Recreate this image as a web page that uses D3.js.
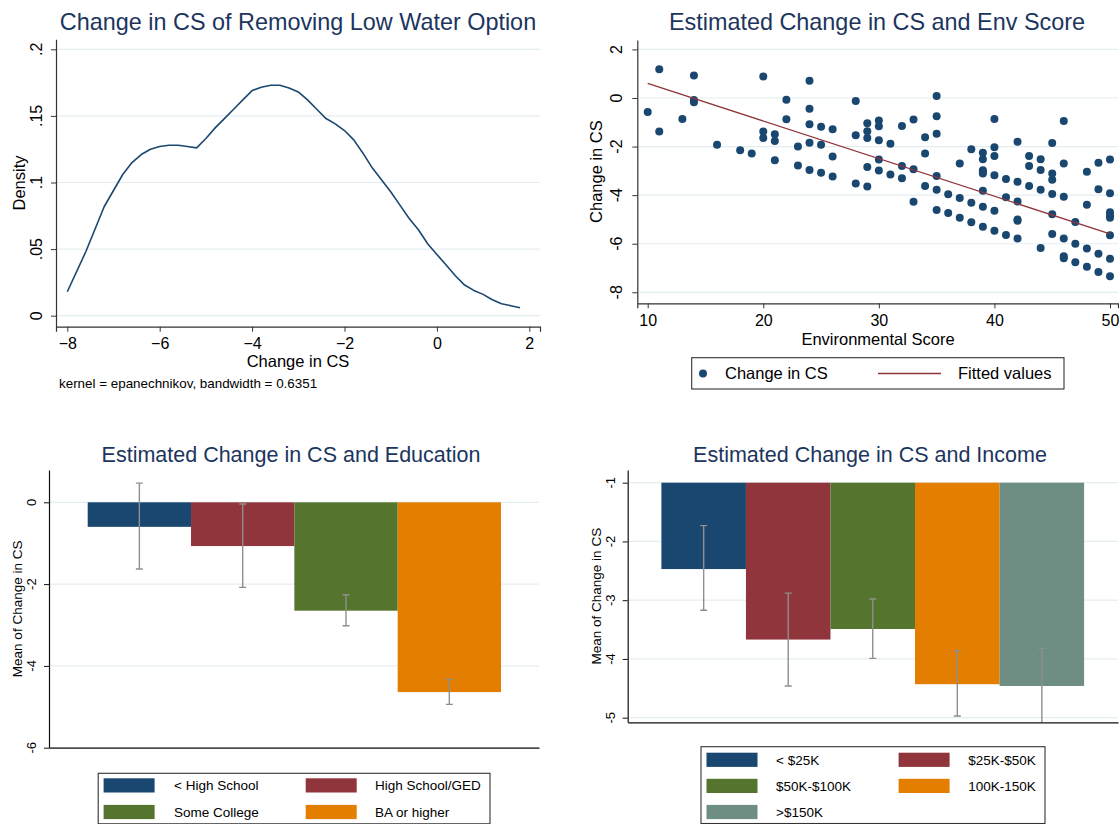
<!DOCTYPE html>
<html><head><meta charset="utf-8">
<script src="https://cdn.jsdelivr.net/npm/d3@7"></script>
<style>
body{margin:0;background:#fff}
svg{display:block}
text{font-family:"Liberation Sans",Arial,Helvetica,sans-serif}
</style>
</head><body>
<svg id="chart" width="1119" height="824"></svg>
<script>
// ---------- DATA ----------
// Panel 1: kernel density of Change in CS
const densityX = [-8,-7.6,-7.2,-6.8,-6.6,-6.4,-6.2,-6.0,-5.8,-5.6,-5.4,-5.2,-5.0,-4.8,-4.6,-4.4,-4.2,-4.0,-3.8,-3.6,-3.4,-3.2,-3.0,-2.8,-2.6,-2.4,-2.2,-2.0,-1.8,-1.6,-1.4,-1.2,-1.0,-0.8,-0.6,-0.4,-0.2,0,0.2,0.4,0.6,0.8,1.0,1.2,1.4,1.6,1.8];
const densityY = [.018,.048,.082,.106,.115,.121,.125,.127,.128,.128,.127,.126,.133,.141,.148,.155,.162,.169,.1715,.173,.173,.171,.168,.162,.155,.148,.144,.139,.132,.122,.111,.102,.093,.083,.073,.0645,.054,.046,.038,.030,.023,.019,.016,.012,.009,.0075,.006];
const densityXTicks = [-8,-6,-4,-2,0,2];
const densityYTicks = [0,0.05,0.1,0.15,0.2];
const densityYTickLabels = ["0",".05",".1",".15",".2"];

// Panel 2: scatter of Change in CS vs Environmental Score
const envScore = [
  10,
  11,11,
  13,
  14,14,14,
  16,
  18,
  19,
  20,20,20,
  21,21,21,
  22,22,
  23,23,
  24,24,24,24,24,
  25,25,25,
  26,26,26,
  28,28,28,
  29,29,29,29,29,
  30,30,30,30,30,
  31,31,
  32,32,32,
  33,33,33,
  34,34,34,
  35,35,35,35,35,35,
  36,36,
  37,37,37,
  38,38,38,
  39,39,39,39,39,39,39,39,
  40,40,40,40,40,40,
  41,41,41,
  42,42,42,42,42,42,
  43,43,43,
  44,44,44,44,
  45,45,45,45,45,45,
  46,46,46,46,46,46,
  47,47,47,
  48,48,48,48,
  49,49,49,49,
  50,50,50,50,50,50,50,50
];
const changeCS = [
  -0.58,
  1.18,-1.38,
  -0.86,
  0.93,-0.08,-0.18,
  -1.93,
  -2.15,
  -2.29,
  0.89,-1.38,-1.65,
  -1.49,-1.77,-2.56,
  -0.07,-0.87,
  -2.00,-2.78,
  0.71,-0.44,-1.08,-1.84,-2.96,
  -1.18,-1.92,-3.08,
  -1.29,-2.41,-3.23,
  -0.12,-1.53,-3.52,
  -1.04,-1.37,-1.65,-2.84,-3.64,
  -0.93,-1.16,-1.74,-2.53,-2.99,
  -1.88,-3.15,
  -1.15,-2.80,-3.30,
  -0.89,-2.93,-4.27,
  -1.62,-2.28,-3.62,
  0.08,-0.75,-1.47,-3.21,-3.78,-4.61,
  -3.96,-4.74,
  -2.70,-4.12,-4.93,
  -2.11,-4.31,-5.12,
  -2.25,-2.52,-2.97,-3.05,-3.11,-3.82,-4.48,-5.30,
  -0.86,-2.03,-2.39,-3.18,-4.64,-5.47,
  -3.33,-4.09,-5.64,
  -1.80,-3.45,-4.26,-5.00,-5.05,-5.79,
  -2.39,-2.80,-3.62,
  -2.52,-2.96,-3.78,-6.18,
  -1.85,-3.11,-3.37,-3.95,-4.79,-5.60,
  -0.95,-2.70,-4.07,-5.78,-6.52,-6.60,
  -5.11,-6.00,-6.76,
  -3.04,-4.40,-6.20,-6.95,
  -2.67,-3.76,-6.41,-7.16,
  -2.53,-3.92,-4.70,-4.83,-4.93,-5.65,-6.62,-7.34
];
const fitX = [10, 50];
const fitY = [0.60, -5.59];
const envXTicks = [10,20,30,40,50];
const envYTicks = [2,0,-2,-4,-6,-8];

// Panel 3: education
const eduCategories = ["< High School","High School/GED","Some College","BA or higher"];
const eduMeans = [-0.60,-1.07,-2.65,-4.64];
const eduLower = [-1.63,-2.08,-3.02,-4.94];
const eduUpper = [0.47,-0.04,-2.26,-4.33];
const eduYTicks = [0,-2,-4,-6];

// Panel 4: income
const incCategories = ["< $25K","$25K-$50K","$50K-$100K","100K-150K",">$150K"];
const incMeans = [-2.47,-3.67,-3.49,-4.43,-4.46];
const incLower = [-3.17,-4.46,-3.99,-4.97,-5.30];
const incUpper = [-1.73,-2.88,-2.98,-3.86,-3.82];
const incYTicks = [-1,-2,-3,-4,-5];
const incBase = -1;

const barColors = ["#1a476f","#90353b","#55752f","#e37e00","#6e8e84"];

// ---------- HELPERS ----------
const svg = d3.select("#chart");
const TITLE = "#1c355e", NAVY = "#1a476f", MAROON = "#90353b", GRID = "#e4edf0", ERR = "#8f8f8f";

function lin(d0, d1, r0, r1, rA, rB) {
  const s = d3.scaleLinear().domain([d0, d1]).range([r0, r1]);
  return d3.scaleLinear().domain([s.invert(rA), s.invert(rB)]).range([rA, rB]);
}
function title(txt, x, y, size) {
  svg.append("text").attr("x", x).attr("y", y).attr("text-anchor", "middle")
    .attr("font-size", size).attr("fill", TITLE).text(txt);
}
function grid(y, ticks, x0, x1) {
  svg.append("g").selectAll("line").data(ticks).join("line")
    .attr("x1", x0).attr("x2", x1).attr("y1", d => y(d)).attr("y2", d => y(d))
    .attr("stroke", GRID).attr("stroke-width", 1.2);
}
function yAxis(y, ticks, labels, xPos, labelX, fs, color) {
  const g = svg.append("g").attr("transform", `translate(${xPos},0)`)
    .call(d3.axisLeft(y).tickValues(ticks).tickSize(5).tickSizeOuter(0).tickFormat(""));
  g.select(".domain").attr("stroke", color).attr("stroke-width", 1.2);
  g.selectAll(".tick line").attr("stroke", color).attr("stroke-width", 1);
  svg.append("g").selectAll("text").data(ticks).join("text")
    .attr("transform", d => `translate(${labelX},${y(d)}) rotate(-90)`)
    .attr("text-anchor", "middle").attr("font-size", fs).attr("fill", "#000")
    .text((d, i) => labels ? labels[i] : d);
}
function xAxis(x, ticks, yPos, fs, color, withTicks) {
  const ax = d3.axisBottom(x).tickSizeOuter(0);
  if (withTicks) ax.tickValues(ticks).tickSize(5).tickPadding(6); else ax.tickValues([]);
  const g = svg.append("g").attr("transform", `translate(0,${yPos})`).call(ax);
  g.select(".domain").attr("stroke", color).attr("stroke-width", 1.2);
  g.selectAll(".tick line").attr("stroke", color).attr("stroke-width", 1);
  g.selectAll(".tick text").attr("font-size", fs).attr("fill", "#000")
    .attr("font-family", '"Liberation Sans",Arial,sans-serif');
}
function rotLabel(txt, x, y, fs) {
  svg.append("text").attr("transform", `translate(${x},${y}) rotate(-90)`)
    .attr("text-anchor", "middle").attr("font-size", fs).attr("fill", "#000").text(txt);
}

// ---------- PANEL 1: density ----------
{
  const x = lin(-8, 2, 67.3, 529.3, 56, 540);
  const y = lin(0, 0.2, 315.7, 49.3, 326.7, 39.3);
  title("Change in CS of Removing Low Water Option", 298, 29.5, 23.4);
  grid(y, densityYTicks, 56, 540);
  const pts = densityX.map((d, i) => [d, densityY[i]]);
  svg.append("path").datum(pts)
    .attr("d", d3.line().x(d => x(d[0])).y(d => y(d[1])))
    .attr("fill", "none").attr("stroke", NAVY).attr("stroke-width", 1.6)
    .attr("stroke-linejoin", "round");
  yAxis(y, densityYTicks, densityYTickLabels, 56, 41.5, 16, "#333");
  xAxis(x, densityXTicks, 326.7, 16, "#333", true);
  svg.append("text").attr("x", 298).attr("y", 367).attr("text-anchor", "middle")
    .attr("font-size", 16.5).text("Change in CS");
  rotLabel("Density", 24.5, 183, 16.5);
  svg.append("text").attr("x", 59).attr("y", 388).attr("font-size", 13.4)
    .text("kernel = epanechnikov, bandwidth = 0.6351");
}

// ---------- PANEL 2: scatter ----------
{
  const x = lin(10, 50, 647.7, 1110, 637.3, 1118);
  const y = lin(0, -8, 98, 292.3, 303.3, 40);
  title("Estimated Change in CS and Env Score", 877, 29.5, 23.4);
  grid(y, envYTicks, 637.3, 1118);
  svg.append("g").selectAll("circle").data(envScore).join("circle")
    .attr("cx", d => x(d)).attr("cy", (d, i) => y(changeCS[i])).attr("r", 4)
    .attr("fill", NAVY);
  svg.append("path").datum(fitX.map((d, i) => [d, fitY[i]]))
    .attr("d", d3.line().x(d => x(d[0])).y(d => y(d[1])))
    .attr("fill", "none").attr("stroke", MAROON).attr("stroke-width", 1.3);
  yAxis(y, envYTicks, null, 637.3, 622, 16, "#333");
  xAxis(x, envXTicks, 303.3, 16, "#333", true);
  svg.append("text").attr("x", 878).attr("y", 344.5).attr("text-anchor", "middle")
    .attr("font-size", 16.5).text("Environmental Score");
  rotLabel("Change in CS", 602, 171.6, 16.5);
  svg.append("rect").attr("x", 691.7).attr("y", 357.7).attr("width", 372.3).attr("height", 31.3)
    .attr("fill", "#fff").attr("stroke", "#333").attr("stroke-width", 1.1);
  svg.append("circle").attr("cx", 703).attr("cy", 373.5).attr("r", 4).attr("fill", NAVY);
  svg.append("text").attr("x", 725).attr("y", 379.3).attr("font-size", 16.5).text("Change in CS");
  svg.append("line").attr("x1", 878).attr("x2", 941).attr("y1", 373.5).attr("y2", 373.5)
    .attr("stroke", MAROON).attr("stroke-width", 1.3);
  svg.append("text").attr("x", 958).attr("y", 379.3).attr("font-size", 16.5).text("Fitted values");
}

// ---------- bar panel helper ----------
function barPanel(o) {
  const y = lin(o.refV[0], o.refV[1], o.refP[0], o.refP[1], o.bottom, o.top);
  const x = d3.scaleBand().domain(o.cats).range(o.barRange).paddingInner(0).paddingOuter(0);
  title(o.title, o.titleX, 461.7, 21.5);
  grid(y, o.yTicks, o.left, o.right);
  const clipId = "clip" + o.id;
  svg.append("clipPath").attr("id", clipId).append("rect")
    .attr("x", o.left).attr("y", o.top).attr("width", o.right - o.left).attr("height", o.bottom - o.top);
  const g = svg.append("g").attr("clip-path", `url(#${clipId})`);
  g.selectAll("rect.bar").data(o.cats).join("rect").attr("class", "bar")
    .attr("x", d => x(d)).attr("width", x.bandwidth())
    .attr("y", (d, i) => Math.min(y(o.base), y(o.means[i])))
    .attr("height", (d, i) => Math.abs(y(o.means[i]) - y(o.base)))
    .attr("fill", (d, i) => barColors[i]);
  const cx = d => x(d) + x.bandwidth() / 2;
  g.selectAll("line.err").data(o.cats).join("line").attr("class", "err")
    .attr("x1", cx).attr("x2", cx)
    .attr("y1", (d, i) => y(o.upper[i])).attr("y2", (d, i) => y(o.lower[i]))
    .attr("stroke", ERR).attr("stroke-width", 1.4);
  ["upper", "lower"].forEach(k => {
    g.selectAll("line.cap" + k).data(o.cats).join("line").attr("class", "cap" + k)
      .attr("x1", d => cx(d) - 3.5).attr("x2", d => cx(d) + 3.5)
      .attr("y1", (d, i) => y(o[k][i])).attr("y2", (d, i) => y(o[k][i]))
      .attr("stroke", ERR).attr("stroke-width", 1.4);
  });
  const xs = d3.scaleLinear().domain([0, 1]).range([o.left, o.right]);
  yAxis(y, o.yTicks, null, o.left, o.left - 13, 13, "#111");
  xAxis(xs, [], o.bottom, 13, "#111", false);
  rotLabel("Mean of Change in CS", o.left - 27, (o.top + o.bottom) / 2, 13.5);
  const L = o.legend;
  svg.append("rect").attr("x", L.x).attr("y", L.y).attr("width", L.w).attr("height", L.h)
    .attr("fill", "#fff").attr("stroke", "#333").attr("stroke-width", 1.1);
  o.cats.forEach((c, i) => {
    const col = i % 2, row = Math.floor(i / 2);
    const sy = L.rowY + row * L.rowStep;
    svg.append("rect").attr("x", L.swX[col]).attr("y", sy).attr("width", 51).attr("height", 14.2)
      .attr("fill", barColors[i]);
    svg.append("text").attr("x", L.txX[col]).attr("y", sy + 12).attr("font-size", 13.5).text(c);
  });
}

barPanel({
  id: 3, cats: eduCategories, means: eduMeans, lower: eduLower, upper: eduUpper, base: 0,
  refV: [0, -6], refP: [502.3, 747.7], top: 470, bottom: 747.7, left: 49, right: 539,
  barRange: [87.7, 501], yTicks: eduYTicks,
  title: "Estimated Change in CS and Education", titleX: 291,
  legend: { x: 98.2, y: 773.3, w: 391.8, h: 50.5, rowY: 778.3, rowStep: 26.6,
            swX: [103.6, 305.7], txX: [174, 375] }
});
barPanel({
  id: 4, cats: incCategories, means: incMeans, lower: incLower, upper: incUpper, base: incBase,
  refV: [-1, -5], refP: [482.7, 717.7], top: 470, bottom: 722.3, left: 627.7, right: 1118,
  barRange: [661.4, 1084.1], yTicks: incYTicks,
  title: "Estimated Change in CS and Income", titleX: 870,
  legend: { x: 701, y: 746.7, w: 344, h: 76.8, rowY: 752.7, rowStep: 26.1,
            swX: [706.5, 898.6], txX: [776, 968.3] }
});
</script>
</body></html>
